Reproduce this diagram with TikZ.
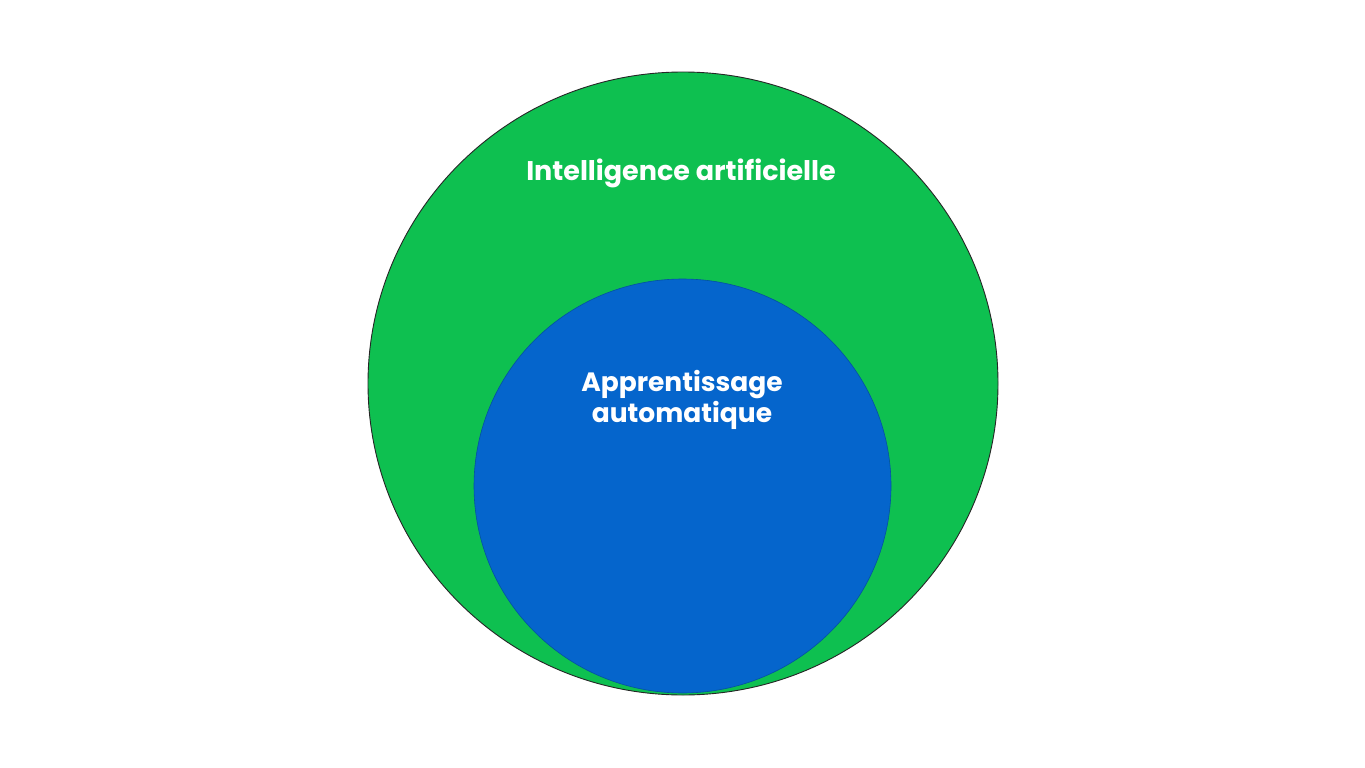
\documentclass[tikz,border=0pt]{standalone}
\usepackage{fontspec}
\setmainfont{Poppins}
\usetikzlibrary{positioning, shapes.geometric}
\definecolor{aigreen}{RGB}{14,192,80}
\definecolor{mlblue}{RGB}{5,101,204}

\tikzset{
	set/.style={ellipse, inner sep=0pt, line width=0.9pt},
	setlabel/.style={text=white, font=\bfseries, align=center, anchor=base}
}

\begin{document}
\begin{tikzpicture}[x=1pt,y=-1pt]
	\useasboundingbox (0,0) rectangle (1365,768);
	\fill[white] (0,0) rectangle (1365,768);

	\node[set, minimum width=630pt, minimum height=623pt, fill=aigreen, draw=black!85] (ai) at (683,383.5) {};
	\node[set, minimum width=417pt, minimum height=414pt, fill=mlblue, draw=mlblue!80!black, line width=0.6pt] (ml) at (682.5,486) {};

	\node[setlabel, font=\fontsize{27}{31}\selectfont\bfseries] (ailabel) at (681,180.5) {Intelligence artificielle};
	\node[setlabel, font=\fontsize{26.5}{31}\selectfont\bfseries] (mllabel) at (682,422) {Apprentissage\\automatique};
\end{tikzpicture}
\end{document}
